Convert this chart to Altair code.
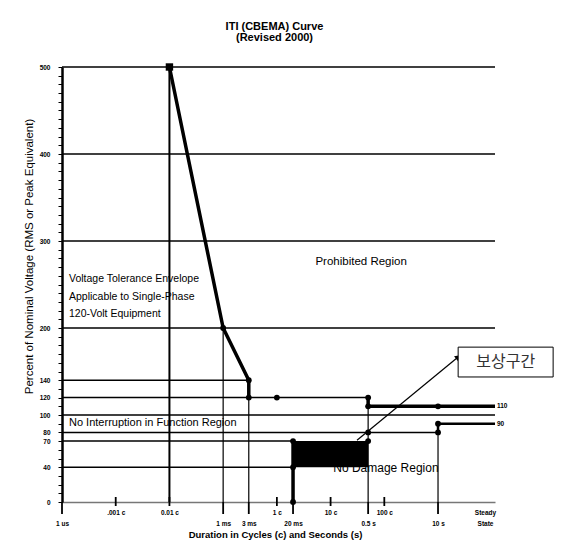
import math
import altair as alt
import pandas as pd

FONT = "Liberation Sans"
KFONT = "Noto Sans CJK KR"

# ---------------- text ----------------
title_lines = ["ITI (CBEMA) Curve", "(Revised 2000)"]
x_title = "Duration in Cycles (c) and Seconds (s)"
y_title = "Percent of Nominal Voltage (RMS or Peak Equivalent)"

# ---------------- axes ----------------
y_label_values = [0, 40, 70, 80, 100, 120, 140, 200, 300, 400, 500]
x_tick_pos = [1e-6, 1e-5, 1e-4, 1e-3, 3e-3, 1e-2, 2e-2, 1e-1, 0.5, 1, 10, 75]
x_tick_text = ["1 us", ".001 c", "0.01 c", "1 ms", "3 ms", "1 c", "20 ms",
               "10 c", "0.5 s", "100 c", "10 s", "Steady State"]
x_tick_kind = ["s", "c", "c", "s", "s", "c", "s", "c", "s", "c", "s", "ss"]

X_MIN, X_MAX = 1e-6, 115
Y_MIN, Y_MAX = 0, 500

# ---------------- envelope lines ----------------
h_level = [500, 400, 300, 200, 140, 120, 100, 80, 70, 40]
h_start = [X_MIN] * 10
h_end = [X_MAX, X_MAX, X_MAX, X_MAX, 3e-3, 0.5, X_MAX, 10, 2e-2, 2e-2]

v_pos = [1e-3, 3e-3, 0.5, 10]
v_top = [200, 120, 120, 90]

upper_x = [1e-4, 1e-4, 1e-3, 3e-3, 3e-3]
upper_y = [0, 500, 200, 140, 120]
upper2_x = [0.5, 0.5, X_MAX]
upper2_y = [120, 110, 110]
lower_x = [2e-2, 2e-2]
lower_y = [0, 70]
lower2_x = [10, 10, X_MAX]
lower2_y = [80, 90, 90]

dots_x = [1e-3, 3e-3, 3e-3, 1e-2, 0.5, 0.5, 10, 10, 10, 0.5, 0.5, 2e-2, 2e-2, 2e-2]
dots_y = [200, 140, 120, 120, 120, 110, 110, 90, 80, 80, 70, 70, 40, 0]
square_x = [1e-4]
square_y = [500]

band_x, band_x2, band_y, band_y2 = [2e-2], [0.5], [40], [70]

end_label_x = [X_MAX, X_MAX]
end_label_y = [110, 90]
end_label_text = ["110", "90"]

# ---------------- region texts ----------------
env_x = [1.35e-6] * 3
env_y = [256, 235.5, 216]
env_text = ["Voltage Tolerance Envelope", "Applicable to Single-Phase", "120-Volt Equipment"]
prohib = dict(x=[0.37], y=[276], text=["Prohibited Region"])
nointr = dict(x=[1.35e-6], y=[90.8], text=["No Interruption in Function Region"])
nodmg = dict(x=[0.112], y=[39], text=["No Damage Region"])

# annotation
arrow_x = [0.31, 23.7]
arrow_y = [71, 166.7]
box_x, box_x2, box_y, box_y2 = [23.7], [1390], [143.7], [178]
box_text = dict(x=[182], y=[161], text=["보상구간"])

# ---------------- scales / axes ----------------
xs = alt.Scale(type="log", domain=[X_MIN, X_MAX], nice=False)
ys = alt.Scale(domain=[Y_MIN, Y_MAX], nice=False, zero=False)


def x_label_expr():
    expr = "''"
    for p, t, k in reversed(list(zip(x_tick_pos, x_tick_text, x_tick_kind))):
        if k == "c":
            lab = f"['{t}']"
        elif k == "s":
            lab = f"['', '{t}']"
        else:
            lab = "[" + ", ".join(f"'{w}'" for w in t.split(" ")) + "]"
        cond = f"abs(log(datum.value) / LN10 - ({math.log10(p):.4f})) < 0.02"
        expr = f"{cond} ? {lab} : {expr}"
    return expr


xaxis = alt.Axis(
    values=x_tick_pos, labelExpr=x_label_expr(), ticks=False, tickSize=0,
    grid=False, labelPadding=7, labelFontSize=6.5, labelFontWeight="bold",
    labelLineHeight=11, labelFlush=False, labelOverlap=False, labelBound=False,
    labelAlign="center", labelBaseline="top",
    domainColor="#777", domainWidth=1.5,
    title=x_title, titleFontSize=9.5, titleFontWeight="bold",
    titleX=213, titleY=32, titleBaseline="middle", titleAlign="center",
)
yaxis = alt.Axis(
    values=list(range(0, 501, 10)),
    labelExpr=f"indexof({y_label_values}, datum.value) >= 0 ? datum.label : ''",
    grid=False, tickSize=4, tickWidth=1, tickColor="black",
    labelPadding=8, labelFontSize=6.5, labelFontWeight="bold", labelOverlap=False,
    domainColor="black", domainWidth=2.5,
    title=y_title, titleFontSize=11.5, titleFontWeight="normal",
    titleX=-33, titleY=189, titleBaseline="middle", titleAlign="center", titleAngle=270,
)


def X(f="x"):
    return alt.X(f"{f}:Q", scale=xs, axis=xaxis)


def Y(f="y"):
    return alt.Y(f"{f}:Q", scale=ys, axis=yaxis)


def base(d):
    return alt.Chart(pd.DataFrame(d))


hlines = base(dict(x=h_start, x2=h_end, y=h_level)).mark_rule(
    color="black", strokeWidth=1.5).encode(x=X(), x2="x2:Q", y=Y())
vlines = base(dict(x=v_pos, y=[0] * len(v_pos), y2=v_top)).mark_rule(
    color="black", strokeWidth=1.2).encode(x=X(), y=Y(), y2="y2:Q")

# x axis tick marks (drawn at the axis positions)
tick_df = dict(x=x_tick_pos, kind=x_tick_kind, y=[0] * len(x_tick_pos))
sec_ticks = base(tick_df).transform_filter("datum.kind == 's'").mark_rule(
    color="black", strokeWidth=1.8, y2Offset=12).encode(x=X(), y=Y(), y2="y:Q")
cyc_ticks = base(tick_df).transform_filter("datum.kind == 'c'").mark_rule(
    color="black", strokeWidth=1.8, yOffset=-5, y2Offset=4).encode(x=X(), y=Y(), y2="y:Q")

nodmg_txt = base(nodmg).mark_text(font=FONT, fontSize=12, align="left", baseline="middle",
                                  color="black").encode(x=X(), y=Y(), text="text:N")
band = base(dict(x=band_x, x2=band_x2, y=band_y, y2=band_y2)).mark_rect(
    color="black").encode(x=X(), x2="x2:Q", y=Y(), y2="y2:Q")


def path(xv, yv, w):
    return base(dict(x=xv, y=yv, o=list(range(len(xv))))).mark_line(
        color="black", strokeWidth=w, strokeJoin="round").encode(x=X(), y=Y(), order="o:Q")


upper = path(upper_x[1:], upper_y[1:], 3.5)
upper_v = base(dict(x=[upper_x[0]], y=[upper_y[0]], y2=[upper_y[1]])).mark_rule(
    color="black", strokeWidth=2).encode(x=X(), y=Y(), y2="y2:Q")
upper2 = path(upper2_x, upper2_y, 3.5)
lower = path(lower_x, lower_y, 3.5)
lower2 = path(lower2_x, lower2_y, 2.5)

dots = base(dict(x=dots_x, y=dots_y)).mark_point(
    filled=True, color="black", size=34, opacity=1, shape="circle").encode(x=X(), y=Y())
square = base(dict(x=square_x, y=square_y)).mark_point(
    filled=True, color="black", size=55, opacity=1, shape="square").encode(x=X(), y=Y())

end_labels = base(dict(x=end_label_x, y=end_label_y, text=end_label_text)).mark_text(
    font=FONT, fontSize=6.5, fontWeight="bold", align="left", dx=2, baseline="middle",
    color="black").encode(x=X(), y=Y(), text="text:N")

env_txt = base(dict(x=env_x, y=env_y, text=env_text)).mark_text(
    font=FONT, fontSize=10.5, align="left", baseline="middle", color="black").encode(
    x=X(), y=Y(), text="text:N")
prohib_txt = base(prohib).mark_text(font=FONT, fontSize=11.5, align="center",
                                    baseline="middle", color="black").encode(x=X(), y=Y(), text="text:N")
nointr_txt = base(nointr).mark_text(font=FONT, fontSize=11, align="left",
                                    baseline="middle", color="black").encode(x=X(), y=Y(), text="text:N")

arrow = base(dict(x=arrow_x, y=arrow_y)).mark_line(color="black", strokeWidth=1.2).encode(x=X(), y=Y())
arrow_head = base(dict(x=arrow_x[1:], y=arrow_y[1:])).mark_point(
    shape="triangle-up", angle=51, filled=True, color="black", size=40, opacity=1).encode(x=X(), y=Y())
box = base(dict(x=box_x, x2=box_x2, y=box_y, y2=box_y2)).mark_rect(
    fill="white", stroke="black", strokeWidth=1).encode(x=X(), x2="x2:Q", y=Y(), y2="y2:Q")
box_txt = base(box_text).mark_text(font=KFONT, fontSize=16, align="center", baseline="middle",
                                   color="#333").encode(x=X(), y=Y(), text="text:N")

chart = alt.layer(
    hlines, vlines, sec_ticks, cyc_ticks, nodmg_txt, band, upper_v, upper, upper2, lower, lower2,
    dots, square, end_labels, env_txt, prohib_txt, nointr_txt, arrow, arrow_head, box, box_txt,
).properties(
    width=433, height=435,
    autosize=alt.AutoSizeParams(type="none"),
    padding={"left": 54, "top": 59, "right": 60, "bottom": 40},
    title=alt.Title(title_lines, font=FONT, fontSize=11, fontWeight="bold", anchor="middle",
                    lineHeight=11, offset=20, color="black", dx=-4),
).configure_view(stroke=None).configure_axis(labelFont=FONT, titleFont=FONT,
                                             labelColor="black", titleColor="black")

chart.save("out.html", embed_options={"renderer": "svg", "actions": False})
